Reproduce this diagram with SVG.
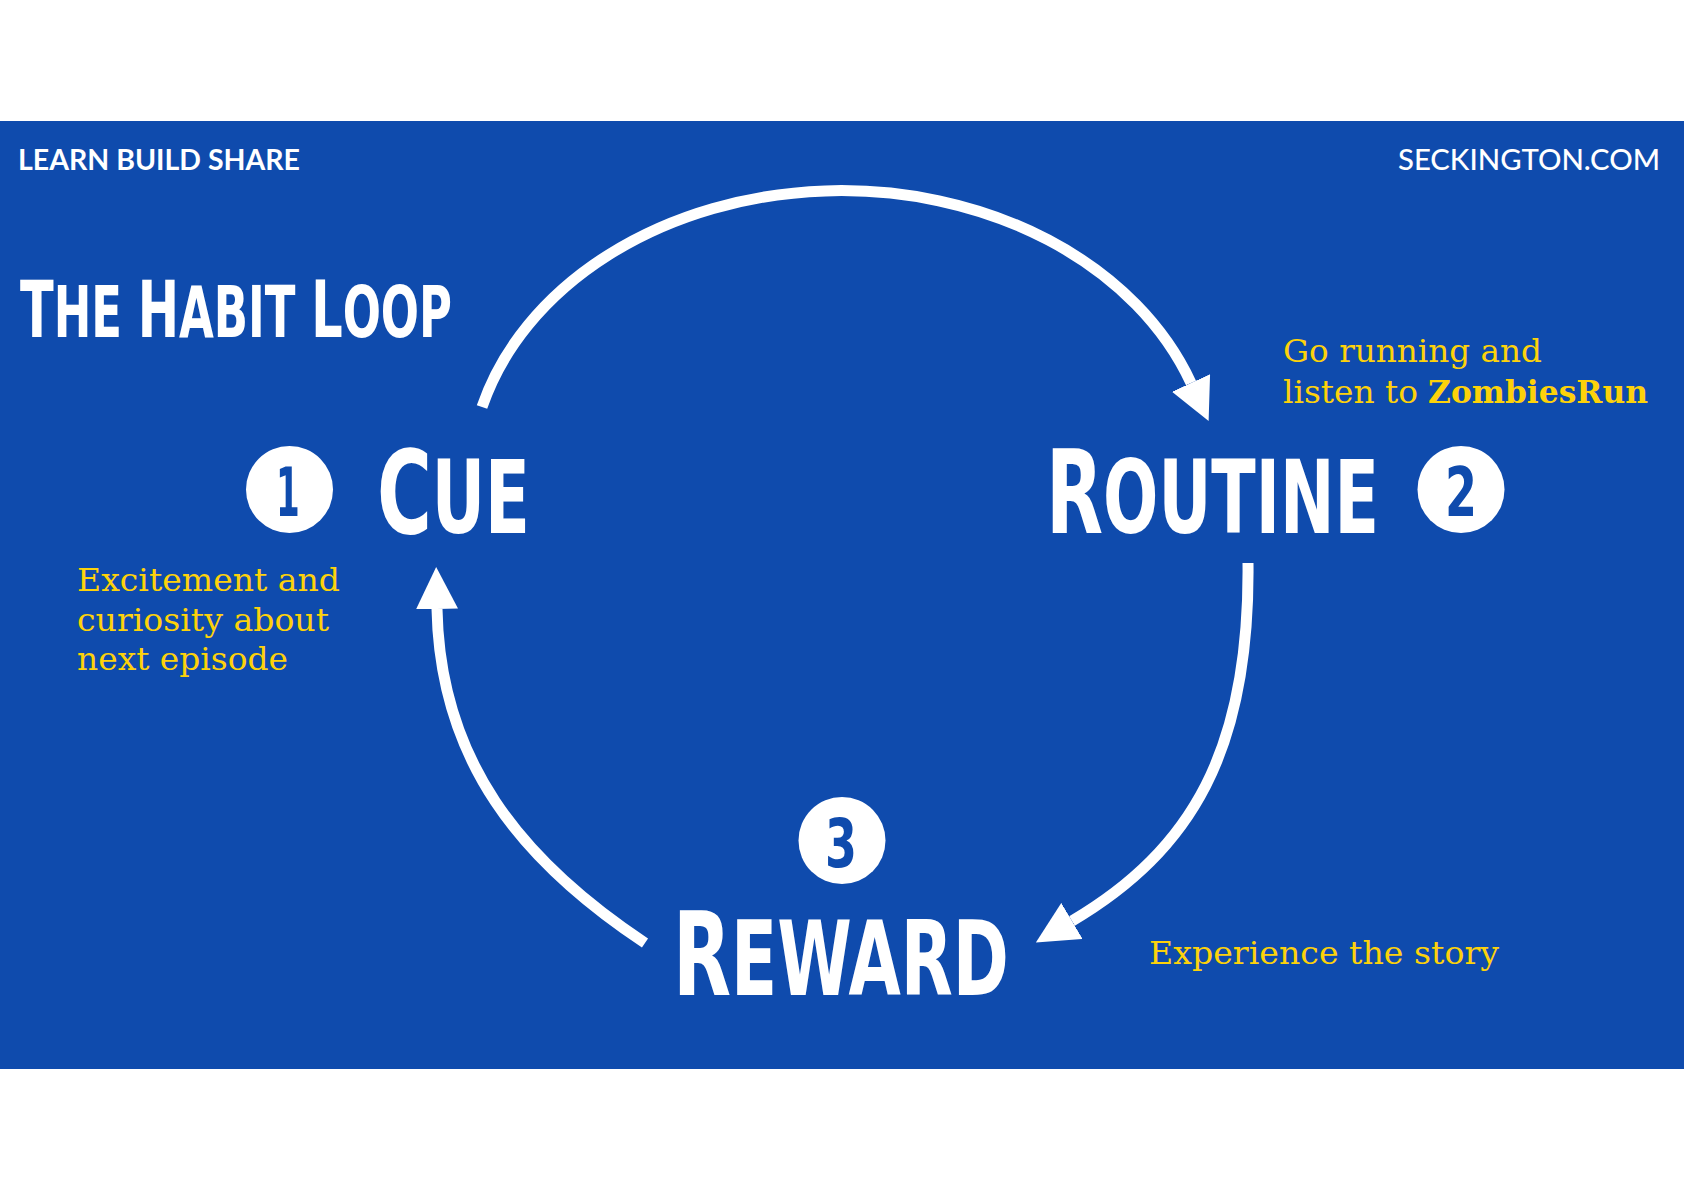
<svg xmlns="http://www.w3.org/2000/svg" width="1684" height="1190" viewBox="0 0 1684 1190">
  <style>
    .band { fill: #0f4bad; }
    .brand { font-family: Lato, "Open Sans", "DejaVu Sans", sans-serif; font-size: 29px; fill: #ffffff; }
    .head { font-family: "DejaVu Sans Condensed", "DejaVu Sans", sans-serif; font-weight: bold; font-stretch: condensed; fill: #ffffff; }
    .num { font-family: "DejaVu Sans Condensed", "DejaVu Sans", sans-serif; font-weight: bold; font-stretch: condensed; font-size: 67px; fill: #0f4bad; text-anchor: middle; }
    .badge { fill: #ffffff; }
    .note { font-family: "DejaVu Serif", "Liberation Serif", serif; font-size: 32px; fill: #fdd20a; }
    .conn { fill: none; stroke: #ffffff; stroke-width: 11; }
  </style>
  <defs>
    <marker id="arrow" markerUnits="userSpaceOnUse" markerWidth="42" markerHeight="42" refX="0" refY="20" orient="auto" viewBox="0 0 40 40">
      <path d="M0,0 L40,20 L0,40 z" fill="#ffffff"/>
    </marker>
  </defs>

  <rect x="0" y="0" width="1684" height="1190" fill="#ffffff"/>
  <rect class="band" x="0" y="121" width="1684" height="948"/>

  <g id="header">
    <text class="brand" x="18" y="170" font-weight="700" textLength="282" lengthAdjust="spacingAndGlyphs">LEARN BUILD SHARE</text>
    <text class="brand" x="1398" y="170" font-weight="500" textLength="262" lengthAdjust="spacingAndGlyphs">SECKINGTON.COM</text>
  </g>

  <g id="title">
    <text class="head" transform="scale(0.72,1)" x="27.8" y="337" textLength="600" lengthAdjust="spacingAndGlyphs"><tspan font-size="78">T</tspan><tspan font-size="71">HE </tspan><tspan font-size="78">H</tspan><tspan font-size="71">ABIT </tspan><tspan font-size="78">L</tspan><tspan font-size="71">OOP</tspan></text>
  </g>

  <g id="connectors">
    <path class="conn" d="M 482 407 A 372 292 0 0 1 1191 383" marker-end="url(#arrow)"/>
    <path class="conn" d="M 1248 563 C 1250 750, 1192 850, 1072 921" marker-end="url(#arrow)"/>
    <path class="conn" d="M 645 943 C 520 860, 440 760, 437 609" marker-end="url(#arrow)"/>
  </g>

  <g id="node-cue">
    <circle class="badge" cx="289.5" cy="489.5" r="43.5"/>
    <text class="num" transform="scale(0.72,1)" x="400" y="516" textLength="33" lengthAdjust="spacingAndGlyphs">1</text>
    <text class="head" transform="scale(0.72,1)" x="523.6" y="533" textLength="212.5" lengthAdjust="spacingAndGlyphs"><tspan font-size="115">C</tspan><tspan font-size="101">UE</tspan></text>
    <text class="note" x="77" y="591" textLength="263" lengthAdjust="spacingAndGlyphs">Excitement and</text>
    <text class="note" x="77" y="631" textLength="252" lengthAdjust="spacingAndGlyphs">curiosity about</text>
    <text class="note" x="77" y="670" textLength="211" lengthAdjust="spacingAndGlyphs">next episode</text>
  </g>

  <g id="node-routine">
    <circle class="badge" cx="1461" cy="489.5" r="43.5"/>
    <text class="num" transform="scale(0.72,1)" x="2029.2" y="516" textLength="44.4" lengthAdjust="spacingAndGlyphs">2</text>
    <text class="head" transform="scale(0.72,1)" x="1452.8" y="533" textLength="462.5" lengthAdjust="spacingAndGlyphs"><tspan font-size="115">R</tspan><tspan font-size="101">OUTINE</tspan></text>
    <text class="note" x="1283" y="362" textLength="259" lengthAdjust="spacingAndGlyphs">Go running and</text>
    <text class="note" x="1283" y="403" textLength="135" lengthAdjust="spacingAndGlyphs">listen to</text>
    <text class="note" x="1428" y="403" font-weight="bold" textLength="220" lengthAdjust="spacingAndGlyphs">ZombiesRun</text>
  </g>

  <g id="node-reward">
    <circle class="badge" cx="842" cy="840.5" r="43.5"/>
    <text class="num" transform="scale(0.72,1)" x="1168" y="867" textLength="44.4" lengthAdjust="spacingAndGlyphs">3</text>
    <text class="head" transform="scale(0.72,1)" x="934.7" y="995" textLength="466.7" lengthAdjust="spacingAndGlyphs"><tspan font-size="115">R</tspan><tspan font-size="103">EWARD</tspan></text>
    <text class="note" x="1149" y="964" textLength="350" lengthAdjust="spacingAndGlyphs">Experience the story</text>
  </g>
</svg>
